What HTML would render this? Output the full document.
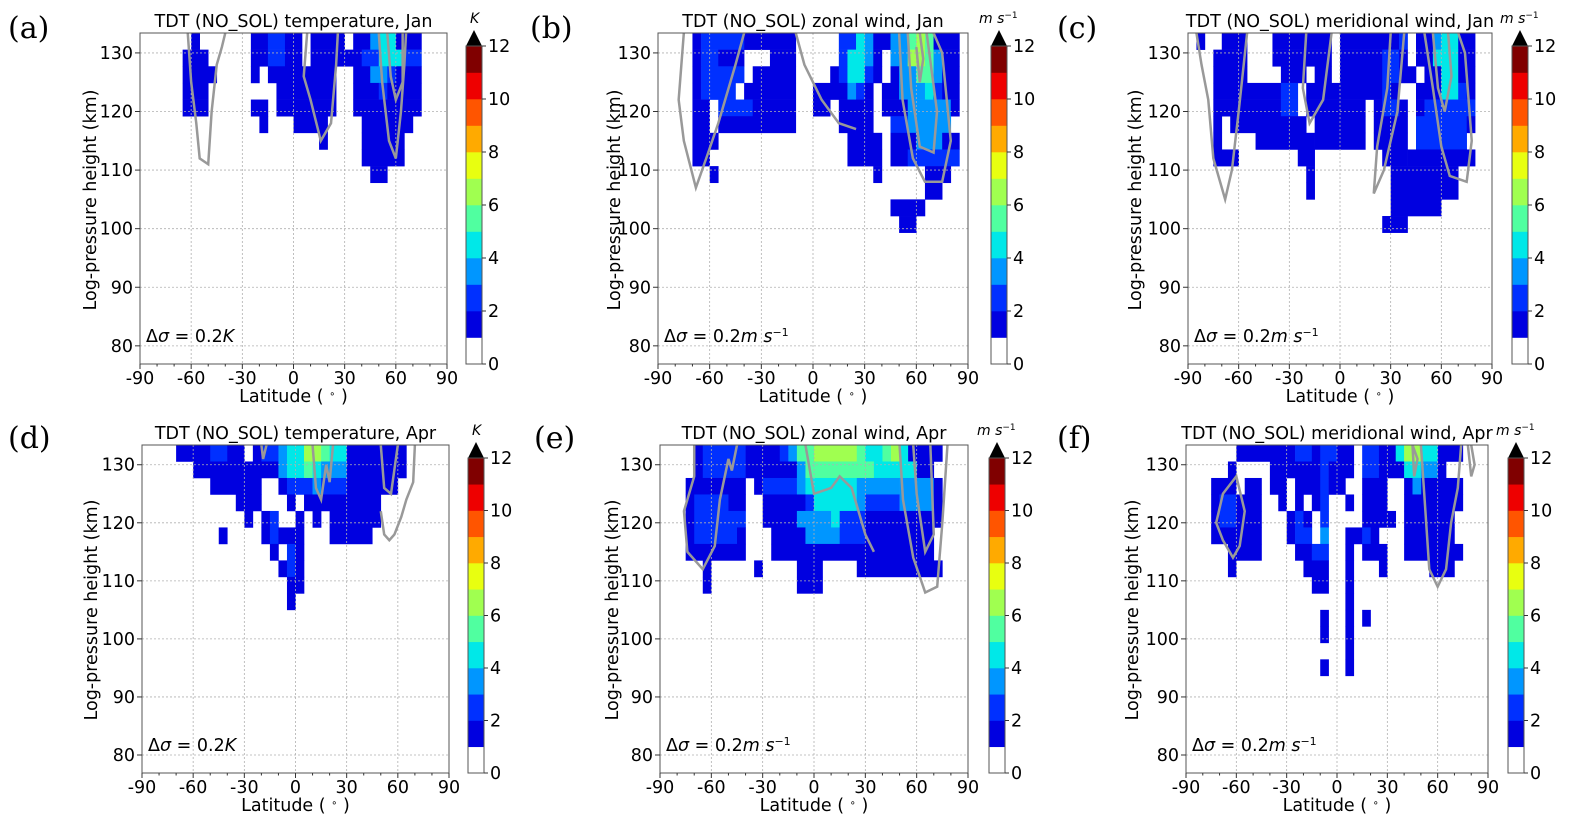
<!DOCTYPE html>
<html><head><meta charset="utf-8">
<style>
html,body{margin:0;padding:0;background:#fff;}
svg{display:block;font-family:"DejaVu Sans","Liberation Sans",sans-serif;}
</style></head>
<body>
<svg id="fig" width="1570" height="829" viewBox="0 0 1570 829" xmlns="http://www.w3.org/2000/svg"></svg>
<script>
// ---- data ----
const levelColors = ["#ffffff","#0000e0","#0030ff","#0096ff","#00e8e8","#50ffa0","#a0ff50","#e8ff10","#ffaa00","#ff5500","#ee0000","#800000"];
const xTicks = [-90,-60,-30,0,30,60,90];
const yTicks = [80,90,100,110,120,130];
const cbTicks = [0,2,4,6,8,10,12];
const latStep = 5;
const kmTop = 133.4, kmBottom = 76.9, rowKm = 2.84;
// rows: list of [startCol,endCol,level]; col 0 = -90..-85 deg
const rowsA = [
 [[6,6,1],[13,14,1],[15,16,2],[17,18,1],[20,23,1],[25,26,1],[27,27,3],[28,29,4],[30,32,1]],
 [[5,7,1],[13,14,1],[15,16,2],[17,18,1],[20,23,1],[24,25,1],[26,27,2],[28,30,4],[31,32,2]],
 [[5,8,1],[13,13,1],[15,22,1],[25,26,1],[27,28,3],[29,29,2],[30,32,1]],
 [[5,7,1],[16,22,1],[25,27,1],[28,28,2],[29,32,1]],
 [[5,7,1],[13,14,1],[16,22,1],[25,32,1]],
 [[14,14,1],[18,21,1],[26,31,1]],
 [[21,21,1],[26,30,1]],
 [[26,30,1]],
 [[27,28,1]]
];
const rowsB = [
 [[4,4,1],[5,9,2],[10,15,1],[21,22,2],[23,23,4],[24,24,3],[25,26,1],[27,28,3],[29,29,5],[30,30,6],[31,31,5],[32,34,1]],
 [[4,4,1],[5,6,2],[7,9,1],[13,15,1],[21,21,2],[22,23,4],[24,24,3],[25,25,1],[27,28,3],[29,30,6],[31,31,5],[32,32,3],[33,34,1]],
 [[4,4,1],[5,9,2],[11,15,1],[20,20,1],[21,21,2],[22,23,4],[24,24,2],[25,25,1],[27,27,1],[28,29,3],[30,31,5],[32,32,3],[33,34,1]],
 [[4,4,1],[5,8,2],[10,15,1],[18,21,1],[22,22,3],[23,23,2],[24,24,1],[26,27,1],[28,30,3],[31,31,4],[32,32,2],[33,34,1]],
 [[4,5,1],[7,10,2],[11,15,1],[18,19,1],[21,24,1],[26,28,1],[29,33,3],[34,34,1]],
 [[4,5,1],[7,15,1],[21,24,1],[27,28,2],[29,33,3]],
 [[4,6,1],[22,25,1],[27,29,1],[30,32,3],[33,34,1]],
 [[4,5,1],[22,25,1],[27,28,1],[29,34,2]],
 [[6,6,1],[25,25,1],[31,33,1]],
 [[31,32,1]],
 [[27,30,1]],
 [[28,29,1]]
];
const rowsC = [
 [[1,1,1],[4,6,1],[10,16,1],[18,24,1],[25,25,2],[27,28,1],[29,29,3],[30,31,4],[32,33,1]],
 [[3,6,1],[10,16,1],[18,22,1],[23,24,2],[25,25,1],[27,28,1],[29,31,4],[32,33,1]],
 [[3,6,1],[11,13,1],[15,16,1],[18,22,1],[23,24,2],[25,26,1],[28,29,1],[30,31,4],[32,33,1]],
 [[3,10,1],[11,12,2],[14,22,1],[23,23,2],[24,24,1],[27,29,1],[30,31,4],[32,32,2],[33,33,1]],
 [[3,10,1],[11,12,2],[14,20,1],[22,22,1],[23,24,2],[25,25,1],[27,27,1],[28,33,2]],
 [[3,3,1],[5,13,1],[15,20,1],[22,25,1],[27,32,2],[33,33,1]],
 [[3,3,1],[8,14,1],[15,20,1],[22,25,1],[27,32,2]],
 [[3,5,1],[13,14,1],[23,25,1],[26,33,1]],
 [[14,14,1],[24,31,1]],
 [[14,14,1],[24,31,1]],
 [[24,29,1]],
 [[23,25,1]]
];
const rowsD = [
 [[4,5,1],[6,7,1],[8,9,2],[10,11,1],[13,13,1],[14,15,2],[16,16,3],[17,18,4],[19,20,6],[21,21,5],[22,23,4],[24,30,1]],
 [[6,15,1],[16,16,3],[17,18,4],[19,19,5],[20,20,4],[21,23,3],[24,30,1]],
 [[8,13,1],[16,16,1],[17,19,2],[20,20,3],[21,23,2],[24,29,1]],
 [[11,13,1],[17,17,1],[19,27,1]],
 [[12,12,1],[14,14,1],[15,15,2],[18,18,1],[20,20,1],[22,27,1]],
 [[9,9,1],[14,14,1],[15,15,2],[16,18,1],[22,26,1]],
 [[15,15,1],[17,17,2],[18,18,1]],
 [[16,16,1],[17,17,2],[18,18,1]],
 [[17,18,1]],
 [[17,17,1]]
];
const rowsE = [
 [[4,4,1],[5,9,2],[10,13,1],[14,14,2],[15,15,3],[16,17,5],[18,22,6],[23,23,5],[24,25,4],[26,26,5],[27,27,6],[28,28,4],[29,32,1]],
 [[4,4,1],[5,9,2],[10,15,1],[16,16,3],[17,24,5],[25,29,4],[30,31,1]],
 [[3,9,1],[11,11,1],[12,15,2],[16,16,3],[17,22,4],[23,27,3],[28,31,3],[32,32,1]],
 [[3,3,1],[4,7,2],[8,9,1],[12,16,1],[17,17,2],[18,22,4],[23,23,3],[24,27,2],[28,31,3],[32,32,1]],
 [[3,3,1],[4,9,2],[12,15,1],[16,19,3],[20,20,4],[21,23,2],[24,32,1]],
 [[3,3,1],[4,8,2],[9,9,1],[13,16,1],[17,20,3],[21,23,2],[24,31,1]],
 [[3,9,1],[13,31,1]],
 [[5,5,1],[11,11,1],[16,18,1],[23,32,1]],
 [[5,5,1],[16,18,1]]
];
const rowsF = [
 [[6,12,1],[13,14,2],[15,15,1],[16,17,2],[18,19,1],[21,22,2],[23,24,1],[25,25,4],[26,27,6],[28,29,4],[30,32,1]],
 [[5,5,1],[10,15,1],[16,16,2],[17,19,1],[21,22,2],[23,25,1],[26,27,4],[28,29,3],[30,30,1]],
 [[3,5,1],[7,8,1],[10,11,1],[13,15,1],[16,16,2],[17,18,1],[21,23,1],[26,32,1],[27,27,3]],
 [[3,3,1],[4,5,2],[6,8,1],[11,11,1],[13,13,1],[15,15,1],[16,16,2],[19,19,1],[21,23,1],[26,32,1]],
 [[3,3,1],[4,5,2],[6,8,1],[12,12,1],[13,13,2],[14,14,1],[16,16,2],[21,24,1],[26,31,1]],
 [[3,8,1],[12,12,1],[13,14,2],[16,16,3],[19,20,1],[21,21,2],[22,22,1],[26,31,1]],
 [[5,8,1],[13,14,1],[15,16,2],[19,19,1],[21,23,1],[26,32,1]],
 [[5,5,1],[14,16,1],[19,19,1],[23,23,1],[29,31,1]],
 [[15,16,1],[19,19,1]],
 [[19,19,1]],
 [[16,16,1],[19,19,1],[21,21,1]],
 [[16,16,1],[19,19,1]],
 [[19,19,1]],
 [[16,16,1],[19,19,1]]
];
// contours: [lat, km] point lists
const contA = [[[-62,133.4],[-60,125],[-57,118],[-55,112],[-50,111],[-48,120],[-45,128],[-42,131],[-40,133.4]],
 [[50,133.4],[52,125],[56,115],[60,112],[63,120],[65,128],[66,133.4]],
 [[55,133.4],[57,126],[60,122],[64,125],[64,133.4]],
 [[8,133.4],[6,126],[10,122],[16,115],[22,118],[25,128],[26,133.4]]];
const contB = [[[-75,133.4],[-78,122],[-75,115],[-68,107],[-62,112],[-55,118],[-45,128],[-40,133.4]],
 [[50,133.4],[52,122],[58,112],[65,108],[75,108],[80,115],[75,130],[70,133.4]],
 [[55,133.4],[57,124],[62,114],[70,113],[72,120],[66,133.4]],
 [[60,131],[62,125],[64,129],[62,133.4]],
 [[-10,133.4],[-5,128],[5,122],[15,118],[25,117]]];
const contC = [[[-85,133.4],[-82,128],[-78,122],[-75,112],[-68,105],[-64,110],[-60,120],[-55,133.4]],
 [[50,133.4],[55,124],[60,114],[65,109],[75,108],[78,115],[74,130],[70,133.4]],
 [[55,133.4],[58,124],[62,120],[66,126],[64,133.4]],
 [[30,133.4],[28,124],[22,114],[20,106],[26,110],[34,120],[38,133.4]],
 [[-20,133.4],[-22,124],[-18,118],[-10,122],[-5,133.4]]];
const contD = [[[-20,133.4],[-19,131],[-17,133.4]],
 [[10,133.4],[12,126],[15,124],[18,130],[20,127],[22,133.4]],
 [[50,133.4],[52,126],[56,125],[60,133.4]],
 [[70,133.4],[69,127],[65,124],[62,121],[58,118],[55,117],[52,118],[50,122]]];
const contE = [[[-70,133.4],[-70,128],[-76,122],[-74,115],[-65,112],[-58,116],[-55,124],[-50,131],[-48,129],[-45,133.4]],
 [[-5,133.4],[0,125],[10,126],[15,128],[22,126],[30,118],[35,115]],
 [[50,133.4],[52,124],[58,114],[65,108],[72,109],[75,120],[78,133.4]],
 [[58,133.4],[60,125],[65,115],[70,118],[68,133.4]]];
const contF = [[[-72,120],[-68,125],[-60,128],[-55,122],[-58,116],[-62,114],[-68,117],[-72,120]],
 [[45,133.4],[46,128],[48,131],[45,133.4]],
 [[50,133.4],[52,125],[55,112],[60,109],[65,112],[68,120],[72,126],[74,133.4]],
 [[80,133.4],[82,130],[80,128],[78,133.4]]];

// ---- layout ----
const panels = [
 {id:"a",letter:"(a)",lx:8,ly:38,title:"TDT (NO_SOL) temperature, Jan",x0:140,x1:447,y0:33,y1:364,cb:466,unit:"K",delta:"0.2K",ylx:96,rows:rowsA,cont:contA},
 {id:"b",letter:"(b)",lx:530,ly:38,title:"TDT (NO_SOL) zonal wind, Jan",x0:658,x1:968,y0:33,y1:364,cb:991,unit:"ms",delta:"0.2ms",ylx:620,rows:rowsB,cont:contB},
 {id:"c",letter:"(c)",lx:1057,ly:38,title:"TDT (NO_SOL) meridional wind, Jan",x0:1188,x1:1492,y0:33,y1:364,cb:1512,unit:"ms",delta:"0.2ms",ylx:1141,rows:rowsC,cont:contC},
 {id:"d",letter:"(d)",lx:8,ly:448,title:"TDT (NO_SOL) temperature, Apr",x0:142,x1:449,y0:445,y1:773,cb:468,unit:"K",delta:"0.2K",ylx:97,rows:rowsD,cont:contD},
 {id:"e",letter:"(e)",lx:534,ly:448,title:"TDT (NO_SOL) zonal wind, Apr",x0:660,x1:968,y0:445,y1:773,cb:989,unit:"ms",delta:"0.2ms",ylx:618,rows:rowsE,cont:contE},
 {id:"f",letter:"(f)",lx:1057,ly:448,title:"TDT (NO_SOL) meridional wind, Apr",x0:1186,x1:1488,y0:445,y1:773,cb:1508,unit:"ms",delta:"0.2ms",ylx:1138,rows:rowsF,cont:contF}
];
const NS="http://www.w3.org/2000/svg";
const svg=document.getElementById("fig");
const FS=17.5;
function mk(tag,attrs,parent){const e=document.createElementNS(NS,tag);for(const k in attrs)e.setAttribute(k,attrs[k]);(parent||svg).appendChild(e);return e;}
function txt(s,attrs,parent){const e=mk("text",attrs,parent);e.textContent=s;return e;}

panels.forEach((p,pi)=>{
  const g=mk("g",{});
  
  
  const xs=lat=>p.x0+(lat+90)/180*(p.x1-p.x0);
  const ys=km=>p.y0+(kmTop-km)/(kmTop-kmBottom)*(p.y1-p.y0);
  const cg=mk("g",{},g);
  
  
  p.rows.forEach((row,r)=>{
    const kt=kmTop-r*rowKm, kb=kt-rowKm;
    row.forEach(seg=>{
      const la=-90+seg[0]*latStep, lb=-90+(seg[1]+1)*latStep;
      const rc=mk("rect",{x:xs(la),y:ys(kt),width:xs(lb)-xs(la)+0.3,height:ys(kb)-ys(kt)+0.3,fill:levelColors[seg[2]]},cg);
      
      
    });
  });
  xTicks.forEach(t=>{const l=mk("line",{x1:xs(t),x2:xs(t),y1:p.y0,y2:p.y1,stroke:"#b0b0b0","stroke-width":0.8,"stroke-dasharray":"2,2"},g);
    });
  yTicks.forEach(t=>{const l=mk("line",{x1:p.x0,x2:p.x1,y1:ys(t),y2:ys(t),stroke:"#b0b0b0","stroke-width":0.8,"stroke-dasharray":"2,2"},g);
    });
  p.cont.forEach(c=>{
    const pl=mk("polyline",{points:c.map(q=>xs(q[0])+","+ys(q[1])).join(" "),fill:"none",stroke:"#999999","stroke-width":2.5},g);
    
    
  });
  const fr=mk("rect",{x:p.x0,y:p.y0,width:p.x1-p.x0,height:p.y1-p.y0,fill:"none",stroke:"#555","stroke-width":1},g);
  
  xTicks.forEach(t=>{
    mk("line",{x1:xs(t),x2:xs(t),y1:p.y1,y2:p.y1+5,stroke:"#333"},g);
    const tl=txt(String(t),{x:xs(t),y:p.y1+20,"text-anchor":"middle","font-size":FS,fill:"#000"},g);
    
  });
  for(let t=-80;t<=80;t+=10){ if(t%30) mk("line",{x1:xs(t),x2:xs(t),y1:p.y1,y2:p.y1+2.5,stroke:"#333"},g); }
  yTicks.forEach(t=>{
    mk("line",{x1:p.x0-5,x2:p.x0,y1:ys(t),y2:ys(t),stroke:"#333"},g);
    const tl=txt(String(t),{x:p.x0-7,y:ys(t)+6,"text-anchor":"end","font-size":FS,fill:"#000"},g);
    
  });
  const xl=txt("Latitude ( ",{x:(p.x0+p.x1)/2,y:p.y1+38,"text-anchor":"middle","font-size":FS},g);
  const ts=mk("tspan",{"baseline-shift":"super","font-size":10},xl);ts.textContent="∘";
  const ts2=mk("tspan",{},xl);ts2.textContent=" )";
  
  const yc = pi<3 ? 200 : 610;
  const yl=txt("Log-pressure height (km)",{x:0,y:0,"text-anchor":"middle","font-size":FS,transform:`translate(${p.ylx},${yc}) rotate(-90)`},g);
  
  const ti=txt(p.title,{x:(p.x0+p.x1)/2,y:p.y0-6,"text-anchor":"middle","font-size":FS},g);
  
  const le=txt(p.letter,{x:p.lx,y:p.ly,"font-size":30,"font-family":"'DejaVu Serif','Liberation Serif',serif"},g);
  
  const dt=txt("Δ",{x:p.x0+6,y:p.y1-22,"font-size":FS},g);
  const d1=mk("tspan",{"font-style":"italic"},dt);d1.textContent="σ";
  const d2=mk("tspan",{},dt);d2.textContent=" = "+p.delta.replace(/[Kms]+$/,"");
  const d3=mk("tspan",{"font-style":"italic"},dt);d3.textContent=p.unit==="K"?"K":"m s";
  if(p.unit!=="K"){const d4=mk("tspan",{"baseline-shift":"super","font-size":11},dt);d4.textContent="−1";}
  
  const cbg=mk("g",{},g);
  
  const cbW=16, nb=12, bh=(p.y1-p.y0-13)/nb, cbBottom=p.y1, cbTopY=p.y1-nb*bh;
  for(let i=0;i<nb;i++){
    const r=mk("rect",{x:p.cb,y:cbBottom-(i+1)*bh,width:cbW,height:bh+0.3,fill:levelColors[i]},cbg);
    
  }
  mk("polygon",{points:`${p.cb},${cbTopY} ${p.cb+cbW},${cbTopY} ${p.cb+cbW/2},${cbTopY-16}`,fill:"#000"},cbg);
  mk("rect",{x:p.cb,y:cbTopY,width:cbW,height:nb*bh,fill:"none",stroke:"#555"},cbg);
  cbTicks.forEach(t=>{
    const yy=cbBottom-t*bh;
    mk("line",{x1:p.cb+cbW,x2:p.cb+cbW+4,y1:yy,y2:yy,stroke:"#333"},cbg);
    const tl=txt(String(t),{x:p.cb+cbW+6,y:yy+6,"font-size":FS},cbg);
    
  });
  const ul=txt(p.unit==="K"?"K":"m s",{x:p.unit==="K"?p.cb+4:p.cb-12,y:p.y0-10,"font-size":14,"font-style":"italic"},cbg);
  if(p.unit!=="K"){const u=mk("tspan",{"baseline-shift":"super","font-size":9,"font-style":"normal"},ul);u.textContent="−1";}
  
});
</script>
</body></html>
